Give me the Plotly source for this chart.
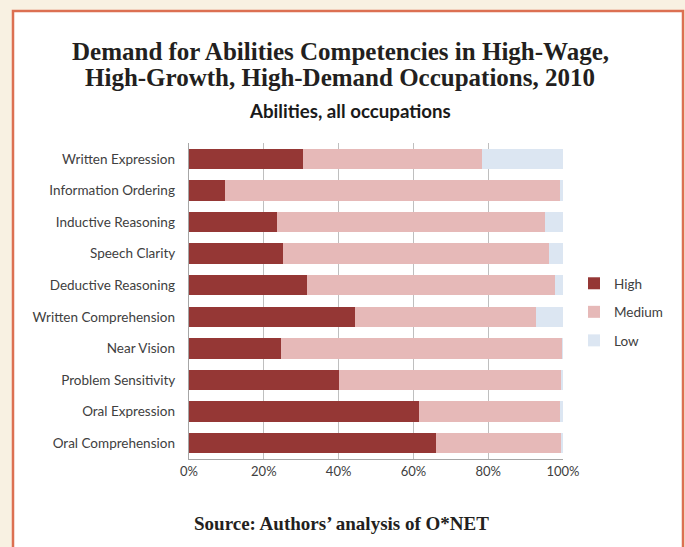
import plotly.graph_objects as go

categories = ["Written Expression", "Information Ordering", "Inductive Reasoning",
              "Speech Clarity", "Deductive Reasoning", "Written Comprehension",
              "Near Vision", "Problem Sensitivity", "Oral Expression", "Oral Comprehension"]
high = [30.4, 9.6, 23.6, 25.0, 31.6, 44.4, 24.5, 40.1, 61.4, 66.1]
medium = [48.0, 89.5, 71.5, 71.2, 66.3, 48.3, 75.3, 59.4, 37.9, 33.4]
low = [21.6, 0.9, 4.9, 3.8, 2.1, 7.3, 0.2, 0.5, 0.7, 0.5]

W, H = 685, 547
L, R, T, B = 189, 563, 143, 459
PW, PH = R - L, B - T

def px(x):
    return (x - L) / PW

def py(y):
    return (B - y) / PH

fig = go.Figure()
for name, vals, col in [("High", high, "#953735"), ("Medium", medium, "#E6B9B8"), ("Low", low, "#DCE6F2")]:
    fig.add_trace(go.Bar(
        y=categories, x=[v / 100 for v in vals], name=name, orientation="h",
        legendgroup=name,
        marker=dict(color=col, line=dict(width=0)),
    ))

fig.update_layout(
    width=W, height=H,
    margin=dict(l=L, r=W - R, t=T, b=H - B, pad=0, autoexpand=False),
    paper_bgcolor="#F8F1E2",
    plot_bgcolor="white",
    barmode="stack",
    bargap=0.35,
    font=dict(family="Lato, Carlito, sans-serif", size=13, color="#404040"),
    legend=dict(
        x=px(574), y=py(268), xanchor="left", yanchor="top",
        traceorder="grouped", itemwidth=30, tracegroupgap=8,
        font=dict(size=13.5, color="#404040"),
        bgcolor="rgba(0,0,0,0)",
    ),
    showlegend=True,
)
fig.update_xaxes(
    range=[0, 1], tickformat=".0%", dtick=0.2, tick0=0,
    showgrid=True, gridcolor="#BFBFBF", gridwidth=1,
    showline=True, linecolor="#A6A6A6", linewidth=1,
    zeroline=False, ticks="", tickfont=dict(size=13, color="#404040"),
    ticklen=0,
)
fig.update_yaxes(
    categoryorder="array", categoryarray=categories, autorange="reversed",
    showline=True, linecolor="#A6A6A6", linewidth=1,
    ticks="", ticklen=0, tickfont=dict(size=13.5, color="#404040"),
    ticksuffix="   ",
)

# white framed panel
fig.add_shape(type="rect", xref="paper", yref="paper",
              x0=px(13), x1=px(683), y0=py(600), y1=py(11),
              line=dict(color="#DC7052", width=2.5), fillcolor="white", layer="below")

serif = "Liberation Serif, Times New Roman, serif"
fig.add_annotation(text="<b>Demand for Abilities Competencies in High-Wage,</b>",
                   x=px(340), y=py(51), xref="paper", yref="paper", showarrow=False,
                   xanchor="center", yanchor="middle",
                   font=dict(family=serif, size=25, color="#231F20"))
fig.add_annotation(text="<b>High-Growth, High-Demand Occupations, 2010</b>",
                   x=px(340), y=py(77), xref="paper", yref="paper", showarrow=False,
                   xanchor="center", yanchor="middle",
                   font=dict(family=serif, size=25, color="#231F20"))
fig.add_annotation(text="<b>Abilities, all occupations</b>",
                   x=px(350), y=py(111), xref="paper", yref="paper", showarrow=False,
                   xanchor="center", yanchor="middle",
                   font=dict(family="Lato, sans-serif", size=18.7, color="#1a1a1a"))
fig.add_annotation(text="<b>Source: Authors’ analysis of O*NET</b>",
                   x=px(341), y=py(523), xref="paper", yref="paper", showarrow=False,
                   xanchor="center", yanchor="middle",
                   font=dict(family=serif, size=19, color="#231F20"))

fig.write_html(
    "out.html",
    config={"displayModeBar": False},
    post_script="document.body.style.margin='0';document.body.style.padding='0';"
                "document.body.style.background='#F8F1E2';",
)
